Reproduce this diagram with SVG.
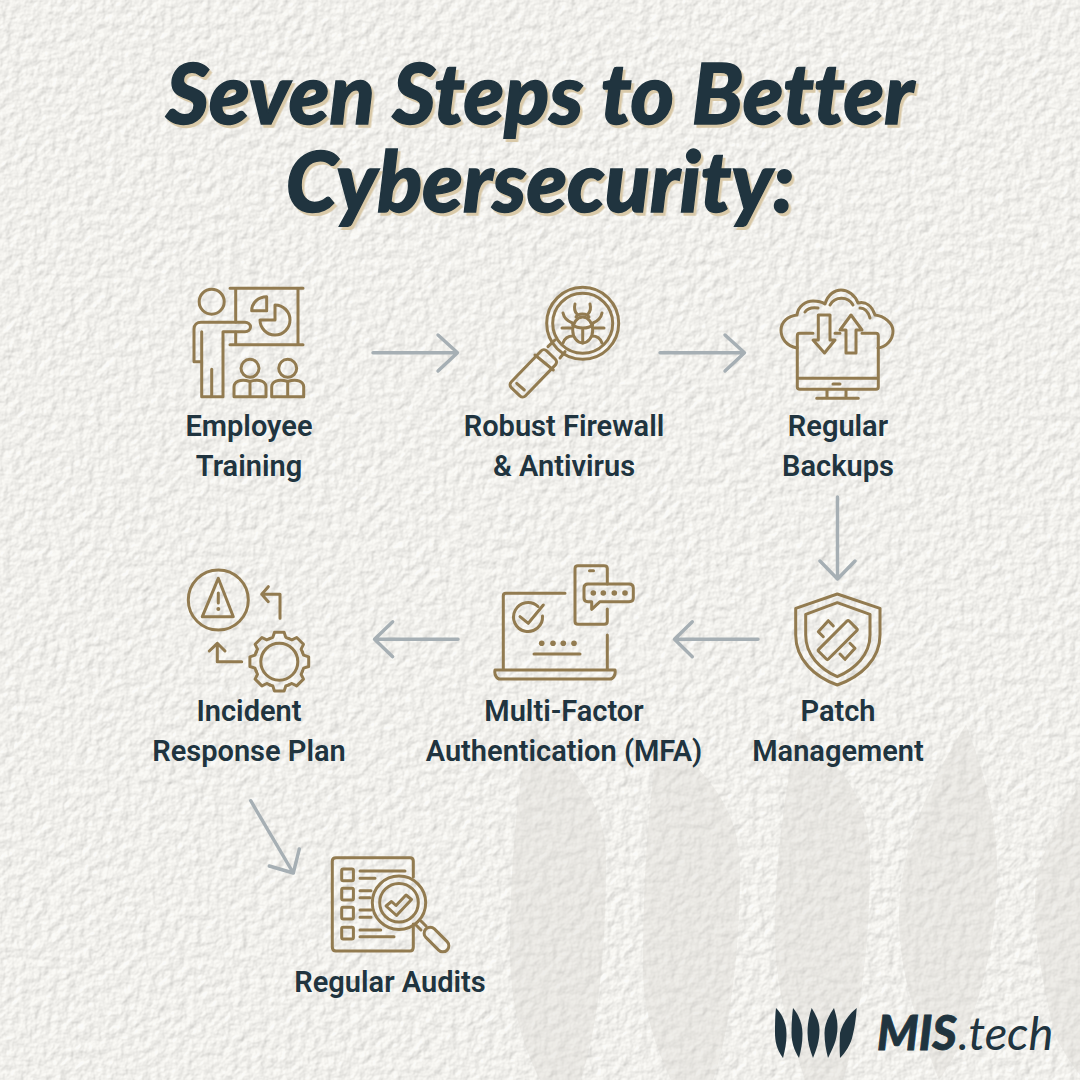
<svg xmlns="http://www.w3.org/2000/svg" width="1080" height="1080" viewBox="0 0 1080 1080">
<style>
.t{font-family:"Lato","Liberation Sans",sans-serif;font-weight:900;font-style:italic;font-size:83px;text-anchor:middle;fill:#20343f;stroke:#20343f;stroke-width:1.4;font-variant-ligatures:none}
.l{font-family:"Roboto","Liberation Sans",sans-serif;font-weight:600;font-size:29px;fill:#20343f;text-anchor:middle}
.i{fill:none;stroke:#927b50;stroke-width:3;stroke-linecap:round;stroke-linejoin:round}
.a{fill:none;stroke:#a6afb4;stroke-width:3.4;stroke-linecap:round;stroke-linejoin:round}
.d{fill:#927b50;stroke:none}
.g{fill:#d9d8d3;opacity:.38}
.k{fill:#20343f}
.m{font-family:"Lato","Liberation Sans",sans-serif;font-style:italic;font-size:47px;fill:#20343f}
</style>
<defs>
<filter id="paper" x="0" y="0" width="100%" height="100%" color-interpolation-filters="sRGB">
<feTurbulence type="fractalNoise" baseFrequency="0.11" numOctaves="3" seed="7" result="n"/>
<feDiffuseLighting in="n" surfaceScale="0.9" diffuseConstant="1.13" lighting-color="#f2f1ed"><feDistantLight azimuth="225" elevation="62"/></feDiffuseLighting>
</filter>
<filter id="sh" x="-5%" y="-5%" width="110%" height="115%" color-interpolation-filters="sRGB">
<feDropShadow dx="2.500" dy="3" stdDeviation="0.300" flood-color="#d9c9a8"/>
</filter>
<path id="tooth" d="M-9.600,-23.100L-6.500,-24.300L-4.800,-29.400L4.800,-29.400L6.500,-24.300L9.600,-23.100"/>
</defs>
<rect id="background" width="1080" height="1080" fill="#f0efeb"/>
<rect width="1080" height="1080" filter="url(#paper)" opacity="0.7"/>
<g id="watermark">
<path class="g" d="M530,727C575,765 606,805 606,860C606,950 598,1030 580,1080H540C520,1040 510,1000 510,950C510,880 515,800 530,727Z"/>
<path class="g" d="M660,733C710,775 740,810 740,870C740,950 730,1030 713,1080H671C652,1040 643,1005 643,967C643,880 648,800 660,733Z"/>
<path class="g" d="M798,728C845,770 870,800 870,860C870,950 858,1030 843,1080H805C785,1020 775,980 775,933C775,860 785,790 798,728Z"/>
<path class="g" d="M966,725C985,775 997,815 997,870C997,950 975,1030 939,1080C915,1020 899,970 899,917C899,850 930,780 966,725Z"/>
<path class="g" d="M1080,783C1055,830 1035,860 1035,900C1035,950 1045,990 1054,1033C1062,1050 1072,1065 1080,1075Z"/>
</g>
<g id="title" filter="url(#sh)">
<text class="t" x="540" y="124">Seven Steps to Better</text>
<text class="t" x="540" y="212">Cybersecurity:</text>
</g>
<g id="connectors" class="a">
<path d="M373,352.700H457M438,335L457.500,352.700L438,371"/>
<path d="M660,352.700H744M725,335L744.500,352.700L725,371"/>
<path d="M837.500,497V579M820,561L837.500,579L855,561"/>
<path d="M758,639.300H674.500M692.300,621.700L674.500,639.300L692.300,656.700"/>
<path d="M458,639.300H374.500M392.700,621.700L374.500,639.300L392.700,656.700"/>
<path d="M250.700,800.700L293.300,873M299.300,849L293.300,873L269.300,866"/>
</g>
<g id="node-employee-training">
<g class="i">
<circle cx="211.700" cy="301.700" r="12.500"/>
<path d="M230,288.300H303M230,344.700H303M235.700,288.300V322M235.700,332V344.700M298,288.300V344.700"/>
<path d="M266.700,296.700V310.700H251.700C251.700,303 258,296.700 266.700,296.700Z"/>
<path d="M275,305A15,15 0 1 1 260,320H275Z"/>
<path d="M201,361.700H194V329C194,325 197,322.300 201,322.300H245C248,322.300 250.500,324.500 250.500,327C250.500,329.500 248,331.700 245,331.700H223V396.700H201.700V331.700M211.700,369.300V396.700"/>
<circle cx="250" cy="368.300" r="9"/><circle cx="287.700" cy="368.300" r="9"/>
<path d="M234,396.700V387C234,382 240,378.300 250,381.500C260,378.300 266,382 266,387V396.700ZM250,381.500V396.700"/>
<path d="M271.700,396.700V387C271.700,382 277.700,378.300 287.700,381.500C297.700,378.300 303.700,382 303.700,387V396.700ZM287.700,381.500V396.700"/>
</g>
<text class="l" x="249" y="436">Employee</text><text class="l" x="249" y="476">Training</text>
</g>
<g id="node-firewall-antivirus">
<g class="i">
<circle cx="582.700" cy="323.300" r="36"/><circle cx="582.700" cy="323.300" r="30"/>
<rect x="507.800" y="363.400" width="51" height="20" rx="4" transform="rotate(-46 533.300 373.400)"/>
<path d="M535,355L553.300,370M548,346.700L555,340M560,358L565,351.700M516.700,383.300L524.300,390"/>
<ellipse cx="582.700" cy="330" rx="10" ry="13"/>
<path d="M572.700,325C578,329 588,329 592.700,325M582.700,328V343M576,317C578,313 587,313 589,317"/>
<path d="M577,314C574,311 574,308 575,304M588,314C591,311 591,308 590,304M572.500,323C567,321 564,318 563,313M593,323C598,321 601,318 602,313M562,328H571M594,328H604M573,336C567,336 564,340 563,343M592,336C598,336 601,340 602,343"/>
</g>
<text class="l" x="564" y="436">Robust Firewall</text><text class="l" x="564" y="476">&amp; Antivirus</text>
</g>
<g id="node-regular-backups">
<g class="i">
<path d="M797,348C786,346 781,338 781,330C781,322 788,316 797,315C798,306 806,301 813,301C818,301 822,302 825,304C828,294 835,290 841,290C848,290 855,295 858,303C866,301 872,306 875,315C884,316 893,323 893,331C893,340 886,347 878,348"/>
<path d="M805,312C807,309 811,307 818,308M830,305C835,296 848,296 853,305M860,308C864,308 868,311 870,318"/>
<path d="M813,333.300H799.500C798,333.300 797.300,334 797.300,336V387C797.300,388.500 798,389.300 800,389.300H876C877.500,389.300 878.300,388.500 878.300,387V336C878.300,334 877.500,333.300 876,333.300H862M835,333.300H840M797.300,378.300H878.300M833,384H840M827,389.300V398.300M846,389.300V398.300M816.700,398.300H858.300"/>
<path d="M818.300,315H830V340H835L824.500,353L813,340H818.300Z"/>
<path d="M846,353H856V330H862L851,315L840,330H846Z"/>
</g>
<text class="l" x="838" y="436">Regular</text><text class="l" x="838" y="476">Backups</text>
</g>
<g id="node-patch-management">
<g class="i">
<path d="M837.300,594L880,608.300V635C880,660 860,677 837.300,685C815,677 795.700,660 795.700,635V608.300Z"/>
<path d="M837.300,602.700L870,614.300V635C870,655 855,669 837.300,676.700C820,669 805.700,655 805.700,635V614.300Z"/>
<rect x="816.200" y="633.200" width="43" height="13.700" rx="1.500" transform="rotate(-45 837.700 640)"/>
<path d="M833.300,626L828.300,620.700L818.300,631.700L823.300,636.700M840,654L845,659.300L855,648.300L850,643.300"/>
</g>
<text class="l" x="838" y="721">Patch</text><text class="l" x="838" y="761">Management</text>
</g>
<g id="node-mfa">
<g class="i">
<path d="M565,593.300H506C504,593.300 503.300,594.500 503.300,596V670M607.300,635V670M495,670H615C616,675 613,679 610,679H500C497,679 494,675 495,670Z"/>
<path d="M607.300,584V568.500C607.300,566.500 606,565.700 604,565.700H578C576,565.700 575,566.500 575,568.500V621.500C575,623.500 576,624.300 578,624.300H604C606,624.300 607.300,623.500 607.300,621.500V609M589.500,570.700H593.500"/>
<path d="M588,584H629C632,584 633.300,585.500 633.300,588V598C633.300,600.500 632,601.700 629,601.700H600L591.700,609.300V601.700H588C585,601.700 584,600.500 584,598V588C584,585.500 585,584 588,584Z"/>
<path d="M538,606.500A14.500,14.500 0 1 0 542.500,616M520,616.700L528.300,623.300L543.300,605M534,654H580"/>
</g>
<g class="d"><circle cx="593.300" cy="593" r="2.800"/><circle cx="603.300" cy="593" r="2.800"/><circle cx="614.300" cy="593" r="2.800"/><circle cx="625" cy="593" r="2.800"/><circle cx="541.700" cy="643.300" r="2.800"/><circle cx="553" cy="643.300" r="2.800"/><circle cx="563.300" cy="643.300" r="2.800"/><circle cx="574" cy="643.300" r="2.800"/></g>
<text class="l" x="564" y="721">Multi-Factor</text><text class="l" x="564" y="761">Authentication (MFA)</text>
</g>
<g id="node-incident-response">
<g class="i">
<circle cx="218.300" cy="600" r="30"/>
<path d="M218.300,578.300L233.300,616.700H202.300Z"/>
<path d="M218.300,593V603"/>
<path d="M280,618.300V594.300H261.700M268.300,586.700L261.700,594.300L268.300,601.700"/>
<path d="M241.700,661.700H217.300V643.300M209.300,651L217.300,643.300L225,651"/>
<circle cx="279.300" cy="661.700" r="18.500"/>
<g transform="translate(279.300 661.700)">
<use href="#tooth"/><use href="#tooth" transform="rotate(45)"/><use href="#tooth" transform="rotate(90)"/><use href="#tooth" transform="rotate(135)"/><use href="#tooth" transform="rotate(180)"/><use href="#tooth" transform="rotate(225)"/><use href="#tooth" transform="rotate(270)"/><use href="#tooth" transform="rotate(315)"/>
</g>
</g>
<circle class="d" cx="218.300" cy="609" r="2"/>
<text class="l" x="249" y="721">Incident</text><text class="l" x="249" y="761">Response Plan</text>
</g>
<g id="node-regular-audits">
<g class="i">
<path d="M413.300,877V861C413.300,859 412,857.700 410,857.700H336C333.500,857.700 332.300,859 332.300,861V947C332.300,950 333.500,951 336,951H410C412,951 413.300,950 413.300,947V924"/>
<rect x="341.700" y="869" width="11.700" height="11.700" rx="1.500"/><rect x="341.700" y="888.300" width="11.700" height="11.700" rx="1.500"/><rect x="341.700" y="907.300" width="11.700" height="11.700" rx="1.500"/><rect x="341.700" y="927.300" width="11.700" height="11.700" rx="1.500"/>
<path d="M360,871H405M360,878.300H375M360,890.700H371M360,897.700H370M360,910H371M360,917.300H371M360,930H380.700M360,936.700H394"/>
<circle cx="399" cy="902.700" r="26.700"/><circle cx="399" cy="902.700" r="19.300"/>
<path d="M391.500,901.500L396,905.500L406,895L411.500,899.500L396.500,915.500L386,906Z"/>
<path d="M416,925L421,930M421,921L426,926"/>
<rect x="421.500" y="933.500" width="30" height="12" rx="6" transform="rotate(45 436.500 939.500)"/>
</g>
<text class="l" x="390" y="992">Regular Audits</text>
</g>
<g id="logo">
<path class="k" d="M776,1008C783,1015 786.500,1024 786.500,1034C786.500,1043 785,1050 783,1058C777,1050 775,1042 775,1033C775,1024 775,1016 776,1008Z"/>
<path class="k" d="M793,1008C799,1015 802.500,1024 802.500,1034C802.500,1043 801,1050 799,1058C794,1050 791.500,1042 791.500,1033C791.500,1024 792,1016 793,1008Z"/>
<path class="k" d="M811.700,1008C816,1015 819.500,1022 819.500,1030C819.500,1042 816,1050 813,1058C810,1050 807.500,1042 807.500,1033C807.500,1024 809,1016 811.700,1008Z"/>
<path class="k" d="M834,1008C836,1015 837.500,1020 837.500,1027C837.500,1040 832,1050 828,1058C826,1050 824.500,1042 824.500,1033C824.500,1024 829,1015 834,1008Z"/>
<path class="k" d="M856.700,1008C856,1018 855,1026 853,1034C851,1045 845,1053 840,1058C839.500,1050 839.500,1042 840,1033C842,1024 849,1014 856.700,1008Z"/>
<text class="m" x="877" y="1050" font-weight="900" stroke="#20343f" stroke-width="0.8">MIS</text>
<text class="m" x="958" y="1050" font-weight="400">.tech</text>
</g>
</svg>
